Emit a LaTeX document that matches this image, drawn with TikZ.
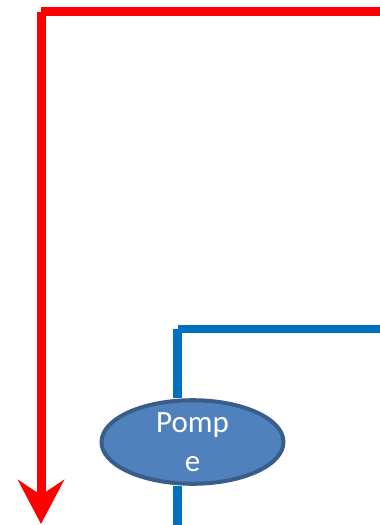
\documentclass[tikz,border=0pt]{standalone}
\usepackage{fontspec}
\setmainfont{Carlito}
\usetikzlibrary{shapes.geometric,arrows.meta}
\definecolor{pipered}{HTML}{FF0000}
\definecolor{pipeblue}{HTML}{0070C0}
\definecolor{pumpfill}{HTML}{4F81BD}
\definecolor{pumpline}{HTML}{385D8A}
\tikzset{
  redpipe/.style={draw=pipered, line width=9pt, line cap=butt},
  bluepipe/.style={draw=pipeblue, line width=8.5pt, line cap=butt},
  pumpnode/.style={ellipse, draw=pumpline, fill=pumpfill, line width=4pt,
    minimum width=182pt, minimum height=75pt, inner sep=0pt,
    text=white, align=center, font=\fontsize{31}{39}\selectfont}
}
\begin{document}
\begin{tikzpicture}[x=1pt,y=-1pt]
\useasboundingbox (0,0) rectangle (380,525);
% red pipe
\coordinate (rin) at (380,11.5);
\coordinate (rcorner) at (41,11.5);
\coordinate (rcornerv) at (41,12);
\coordinate (rout) at (41,524);
\draw[redpipe] (rin) -- (rcorner);
\draw[redpipe, -{Stealth[length=44pt,width=46pt,inset=15pt]}] (rcornerv) -- (rout);
% pump and blue pipe
\node[pumpnode] (pump) at (192.5,442) {Pomp\\e};
\coordinate (bin) at (380,329);
\coordinate (bcorner) at (177.5,329);
\coordinate (bcornerv) at (177.5,329);
\coordinate (bout) at (177.5,525);
\draw[bluepipe] (bin) -- (bcorner);
\draw[bluepipe] (bcornerv) -- (pump.north -| bcornerv);
\draw[bluepipe] (pump.south -| bcornerv) -- (bout);
\end{tikzpicture}
\end{document}
